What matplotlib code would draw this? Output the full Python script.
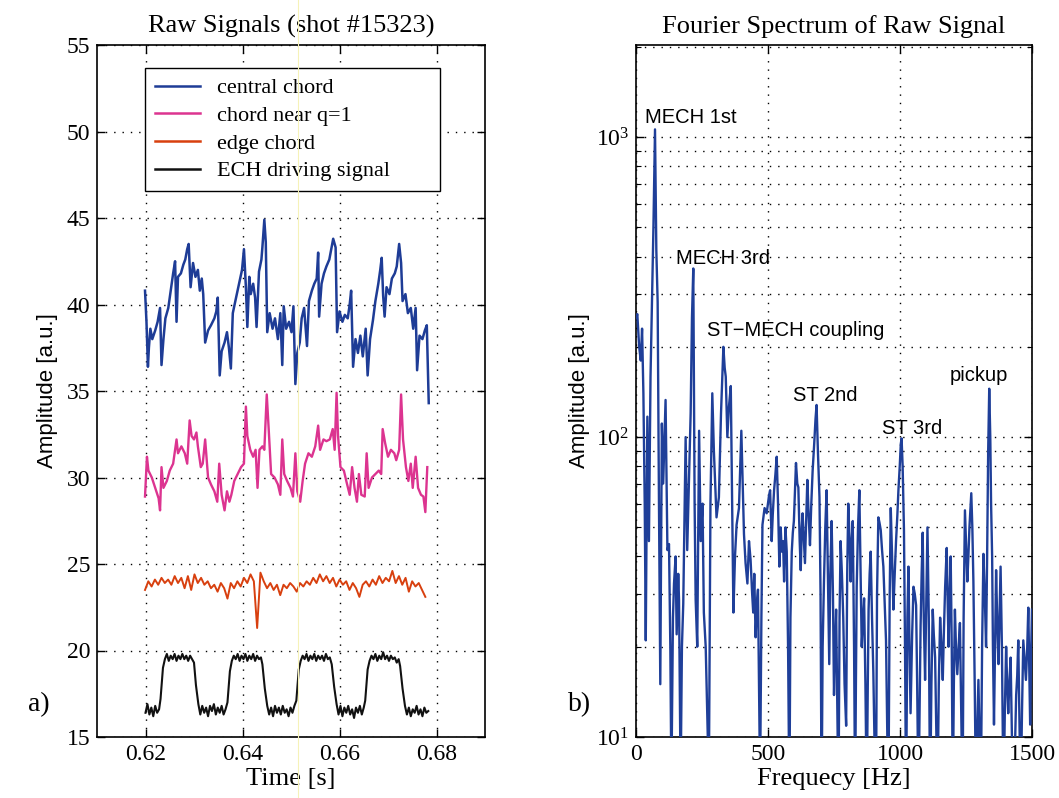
import numpy as np
import matplotlib
matplotlib.use('Agg')
import matplotlib.pyplot as plt
from matplotlib.lines import Line2D
from matplotlib.ticker import LogLocator, NullFormatter

SERIF = ['Liberation Serif', 'DejaVu Serif']
SANS = ['Liberation Sans', 'DejaVu Sans']
plt.rcParams['font.family'] = SERIF
plt.rcParams['mathtext.fontset'] = 'custom'
plt.rcParams['mathtext.rm'] = 'Liberation Serif'
plt.rcParams['mathtext.it'] = 'Liberation Serif:italic'

# ---------------- data: raw signals ----------------
central_t = [0.6199, 0.6202, 0.6205, 0.6207, 0.6210, 0.6214, 0.6220, 0.6225, 0.6230, 0.6233,
             0.6237, 0.6241, 0.6247, 0.6252, 0.6257, 0.6261, 0.6264, 0.6267, 0.6273, 0.6278,
             0.6282, 0.6286, 0.6289, 0.6293, 0.6298, 0.6303, 0.6308, 0.6312, 0.6316, 0.6319,
             0.6323, 0.6329, 0.6335, 0.6342, 0.6346, 0.6349, 0.6353, 0.6357, 0.6363, 0.6368,
             0.6372, 0.6376, 0.6380, 0.6386, 0.6393, 0.6399, 0.6403, 0.6407, 0.6410, 0.6414,
             0.6417, 0.6422, 0.6426, 0.6429, 0.6434, 0.6439, 0.6441, 0.6445, 0.6448, 0.6451,
             0.6456, 0.6462, 0.6467, 0.6473, 0.6478, 0.6482, 0.6485, 0.6490, 0.6496, 0.6501,
             0.6505, 0.6509, 0.6513, 0.6518, 0.6522, 0.6527, 0.6533, 0.6537, 0.6543, 0.6548,
             0.6553, 0.6556, 0.6558, 0.6563, 0.6568, 0.6573, 0.6579, 0.6583, 0.6587, 0.6592,
             0.6595, 0.6600, 0.6606, 0.6611, 0.6617, 0.6621, 0.6624, 0.6628, 0.6633, 0.6638,
             0.6643, 0.6648, 0.6654, 0.6658, 0.6663, 0.6669, 0.6674, 0.6680, 0.6684, 0.6687,
             0.6690, 0.6693, 0.6697, 0.6703, 0.6708, 0.6714, 0.6718, 0.6723, 0.6727, 0.6730,
             0.6736, 0.6741, 0.6747, 0.6752, 0.6757, 0.6760, 0.6765, 0.6771, 0.6776, 0.6780,
             0.6784]
central_v = [40.8, 39.0, 36.4, 37.5, 38.6, 38.0, 38.5, 39.0, 39.8, 36.5,
             38.0, 39.2, 39.8, 40.8, 41.8, 42.5, 39.0, 41.6, 41.8, 42.3,
             42.6, 43.2, 43.5, 41.0, 42.4, 41.6, 42.0, 40.8, 41.5, 40.6,
             37.8, 38.5, 38.8, 39.2, 39.6, 40.4, 35.9, 37.3, 37.8, 38.4,
             37.5, 36.3, 39.5, 40.3, 41.2, 42.0, 43.2, 41.0, 38.7, 41.6,
             40.6, 41.2, 40.4, 38.7, 41.9, 42.6, 43.3, 44.9, 43.6, 38.4,
             39.5, 38.6, 39.2, 38.0, 39.5, 36.5, 39.9, 38.6, 39.0, 38.4,
             39.9, 35.4, 37.2, 37.8, 39.2, 39.8, 37.6, 40.2, 40.8, 41.2,
             41.5, 43.0, 39.3, 41.2, 41.8, 42.2, 42.6, 43.2, 43.8, 43.3,
             38.4, 39.6, 39.0, 39.4, 39.2, 40.0, 40.8, 36.4, 38.0, 37.2,
             38.2, 37.0, 38.6, 35.9, 38.0, 39.1, 40.2, 41.2, 42.0, 42.7,
             40.5, 39.3, 41.0, 40.6, 41.5, 41.8, 42.2, 43.5, 42.4, 40.2,
             40.6, 39.5, 39.8, 38.6, 39.8, 36.2, 38.2, 38.0, 38.5, 38.8,
             34.3]

q1_t = [0.6199, 0.6203, 0.6206, 0.6213, 0.6220, 0.6227, 0.6230, 0.6233, 0.6237, 0.6244,
        0.6250, 0.6257, 0.6264, 0.6267, 0.6274, 0.6281, 0.6286, 0.6291, 0.6295, 0.6300,
        0.6305, 0.6308, 0.6314, 0.6318, 0.6323, 0.6329, 0.6335, 0.6342, 0.6348, 0.6352,
        0.6357, 0.6363, 0.6368, 0.6373, 0.6377, 0.6383, 0.6390, 0.6397, 0.6403, 0.6407,
        0.6410, 0.6416, 0.6422, 0.6427, 0.6431, 0.6435, 0.6441, 0.6445, 0.6450, 0.6454,
        0.6459, 0.6466, 0.6473, 0.6478, 0.6482, 0.6486, 0.6492, 0.6499, 0.6504, 0.6509,
        0.6513, 0.6519, 0.6524, 0.6529, 0.6536, 0.6543, 0.6550, 0.6556, 0.6560, 0.6567,
        0.6573, 0.6580, 0.6586, 0.6590, 0.6594, 0.6597, 0.6602, 0.6609, 0.6614, 0.6621,
        0.6626, 0.6631, 0.6636, 0.6640, 0.6645, 0.6652, 0.6656, 0.6660, 0.6667, 0.6674,
        0.6681, 0.6686, 0.6689, 0.6694, 0.6700, 0.6706, 0.6713, 0.6717, 0.6723, 0.6727,
        0.6731, 0.6737, 0.6742, 0.6747, 0.6751, 0.6757, 0.6762, 0.6768, 0.6773, 0.6777,
        0.6781]
q1_v = [28.9, 31.2, 30.4, 30.0, 29.4, 28.8, 28.1, 30.6, 29.4, 29.8,
        30.4, 30.8, 32.2, 31.4, 31.8, 31.4, 30.8, 33.3, 32.4, 32.2,
        32.6, 31.8, 30.6, 30.8, 32.2, 30.0, 29.6, 29.2, 28.6, 30.8,
        29.0, 28.1, 29.2, 28.6, 29.0, 29.8, 30.2, 30.6, 30.8, 34.1,
        32.4, 31.6, 31.2, 31.6, 29.4, 31.6, 31.8, 31.6, 34.8, 32.8,
        30.2, 30.0, 29.6, 29.0, 32.2, 30.2, 29.8, 29.4, 28.9, 31.4,
        29.2, 28.6, 29.8, 30.8, 31.4, 31.2, 31.8, 33.0, 31.6, 32.2,
        32.1, 32.2, 32.8, 31.6, 34.9, 32.4, 30.6, 30.4, 29.8, 29.0,
        30.6, 29.4, 28.6, 30.2, 29.0, 28.9, 31.4, 29.4, 30.0, 30.2,
        30.4, 30.2, 32.8, 32.0, 31.2, 31.6, 31.4, 31.0, 31.6, 34.8,
        32.2, 30.6, 29.8, 30.8, 29.4, 31.2, 29.4, 29.0, 28.9, 28.0,
        30.6]

edge_start, edge_end = 0.6199, 0.6777
edge_v = [23.5, 24.0, 23.7, 24.1, 23.8, 24.2, 23.9, 24.1, 23.8, 24.3,
          23.9, 24.2, 23.6, 24.3, 23.5, 24.4, 23.9, 24.2, 23.8, 24.0,
          23.6, 23.8, 23.4, 23.9, 23.6, 23.0, 23.9, 23.6, 24.0, 23.7,
          24.2, 23.9, 24.4, 24.0, 21.3, 24.5, 24.0, 23.6, 23.9, 23.5,
          23.8, 23.2, 23.8, 23.6, 23.9, 23.7, 23.4, 23.9, 23.7, 24.0,
          23.8, 24.2, 23.9, 24.4, 24.0, 24.3, 23.9, 24.2, 23.7, 24.1,
          23.8, 24.0, 23.5, 23.9, 23.6, 23.1, 23.8, 24.0, 23.7, 24.1,
          23.8, 24.3, 23.9, 24.2, 24.0, 24.6, 23.9, 24.3, 23.8, 24.2,
          23.4, 24.0, 23.7, 23.9, 23.5, 23.1]

ech_t = [0.6200, 0.6204, 0.6208, 0.6212, 0.6216, 0.6220, 0.6224, 0.6228, 0.6231, 0.6236,
         0.6240, 0.6244, 0.6248, 0.6252, 0.6256, 0.6260, 0.6264, 0.6268, 0.6272, 0.6276,
         0.6280, 0.6284, 0.6288, 0.6292, 0.6296, 0.6300, 0.6304, 0.6309, 0.6313, 0.6317,
         0.6321, 0.6325, 0.6329, 0.6333, 0.6337, 0.6341, 0.6345, 0.6349, 0.6353, 0.6357,
         0.6361, 0.6365, 0.6369, 0.6374, 0.6378, 0.6382, 0.6386, 0.6390, 0.6394, 0.6398,
         0.6402, 0.6406, 0.6410, 0.6414, 0.6418, 0.6422, 0.6426, 0.6430, 0.6434, 0.6438,
         0.6441, 0.6446, 0.6451, 0.6455, 0.6459, 0.6463, 0.6467, 0.6471, 0.6475, 0.6479,
         0.6483, 0.6487, 0.6491, 0.6495, 0.6499, 0.6503, 0.6507, 0.6511, 0.6516, 0.6520,
         0.6524, 0.6528, 0.6532, 0.6536, 0.6540, 0.6544, 0.6548, 0.6552, 0.6556, 0.6560,
         0.6564, 0.6568, 0.6572, 0.6576, 0.6580, 0.6584, 0.6589, 0.6594, 0.6598, 0.6602,
         0.6606, 0.6610, 0.6614, 0.6618, 0.6622, 0.6626, 0.6630, 0.6634, 0.6638, 0.6642,
         0.6646, 0.6650, 0.6653, 0.6658, 0.6662, 0.6666, 0.6670, 0.6674, 0.6678, 0.6682,
         0.6686, 0.6690, 0.6694, 0.6698, 0.6702, 0.6706, 0.6710, 0.6714, 0.6718, 0.6722,
         0.6725, 0.6730, 0.6735, 0.6739, 0.6743, 0.6747, 0.6751, 0.6755, 0.6759, 0.6763,
         0.6767, 0.6771, 0.6775, 0.6779, 0.6783]
ech_v = [16.4, 16.9, 16.3, 16.7, 16.2, 16.8, 16.4, 16.6, 17.2, 19.0,
         19.5, 19.8, 19.4, 19.7, 19.5, 19.8, 19.4, 19.7, 19.5, 19.8,
         19.5, 19.7, 19.4, 19.7, 19.5, 19.3, 18.0, 16.9, 16.3, 16.8,
         16.4, 16.7, 16.2, 16.8, 16.5, 16.9, 16.3, 16.7, 16.4, 16.8,
         16.3, 16.6, 17.0, 18.8, 19.4, 19.7, 19.5, 19.8, 19.4, 19.7,
         19.5, 19.8, 19.4, 19.7, 19.5, 19.8, 19.4, 19.7, 19.5, 19.6,
         19.2, 17.8, 16.8, 16.3, 16.7, 16.2, 16.8, 16.4, 16.7, 16.3,
         16.8, 16.4, 16.6, 16.2, 16.7, 16.4, 16.8, 17.1, 18.9, 19.4,
         19.7, 19.5, 19.8, 19.4, 19.7, 19.5, 19.8, 19.4, 19.7, 19.5,
         19.7, 19.4, 19.8, 19.5, 19.6, 19.2, 17.9, 16.9, 16.3, 16.8,
         16.2, 16.7, 16.4, 16.8, 16.3, 16.6, 16.1, 16.7, 16.4, 16.8,
         16.3, 16.7, 17.1, 18.9, 19.4, 19.7, 19.5, 19.8, 19.4, 19.7,
         19.5, 19.9, 19.5, 19.7, 19.4, 19.7, 19.5, 19.6, 19.3, 19.5,
         19.1, 17.8, 16.8, 16.3, 16.7, 16.2, 16.6, 16.4, 16.8, 16.3,
         16.6, 16.2, 16.7, 16.4, 16.5]

series_labels = ['central chord', 'chord near q=1', 'edge chord', 'ECH driving signal']

# ---------------- data: Fourier spectrum ----------------
freq_hz = [0, 5, 12, 18, 23, 28, 33, 37, 43, 49, 55, 60, 66, 72, 77, 82, 87, 92, 98, 103,
           106, 112, 119, 125, 130, 134, 140, 144, 150, 154, 160, 163, 169, 174, 179, 188, 194, 201, 207, 212,
           217, 222, 226, 232, 239, 245, 252, 257, 264, 270, 276, 282, 289, 295, 305, 314, 322, 331, 336, 340,
           346, 352, 359, 364, 369, 375, 381, 390, 395, 399, 404, 409, 415, 422, 428, 434, 440, 444, 448, 453,
           458, 462, 466, 470, 475, 479, 487, 495, 500, 504, 508, 514, 518, 523, 528, 533, 538, 543, 548, 552,
           557, 561, 566, 571, 576, 581, 585, 590, 594, 598, 606, 611, 615, 620, 624, 628, 631, 636, 640, 645,
           649, 654, 659, 664, 669, 675, 680, 684, 689, 695, 699, 703, 707, 712, 717, 722, 727, 732, 736, 741,
           746, 750, 754, 758, 763, 767, 771, 775, 780, 785, 790, 796, 800, 804, 809, 813, 817, 821, 826, 830,
           833, 836, 841, 846, 851, 855, 860, 864, 869, 874, 878, 881, 885, 889, 894, 899, 904, 909, 913, 918,
           922, 927, 932, 937, 942, 947, 952, 956, 961, 965, 970, 975, 980, 985, 990, 994, 999, 1003, 1006, 1010,
           1015, 1019, 1023, 1028, 1032, 1036, 1040, 1046, 1051, 1056, 1061, 1065, 1070, 1074, 1078, 1082, 1086, 1090, 1095, 1100,
           1104, 1109, 1114, 1119, 1124, 1128, 1133, 1138, 1142, 1147, 1152, 1157, 1162, 1166, 1171, 1177, 1180, 1184, 1188, 1192,
           1196, 1200, 1204, 1208, 1212, 1217, 1222, 1227, 1232, 1237, 1241, 1246, 1250, 1255, 1259, 1263, 1267, 1270, 1274, 1278,
           1283, 1288, 1292, 1297, 1301, 1306, 1311, 1316, 1321, 1326, 1330, 1334, 1338, 1342, 1345, 1349, 1352, 1356, 1360, 1364,
           1368, 1373, 1377, 1381, 1386, 1392, 1397, 1402, 1406, 1410, 1414, 1419, 1424, 1429, 1434, 1440, 1444, 1448, 1452, 1457,
           1462, 1467, 1472, 1477, 1482, 1486, 1490, 1493, 1496, 1500]
spec_amp = [250, 257, 200, 180, 230, 140, 60, 21, 117, 45, 159, 272, 500, 1062, 420, 282, 60, 15, 111, 70,
            86, 133, 42, 44, 20, 7, 25, 32.5, 40, 22, 35, 28.6, 7, 20, 27.8, 100, 42, 74, 120, 250,
            365, 60, 28.6, 20, 105, 45, 60, 26, 20, 12, 7, 60, 140, 90, 54, 63, 120, 200, 170, 159,
            100, 126, 148, 60, 26, 40, 51, 58, 80, 105, 70, 47.5, 38, 32.5, 45, 39, 30, 26, 35, 21.5,
            28, 31, 15, 7, 25, 51, 58, 55.7, 60, 64, 66.5, 45, 55, 66.5, 75, 86, 60, 37, 50, 41.5,
            45, 33, 50, 41.5, 20, 6, 25, 41.5, 48, 52.5, 82, 70, 68, 45, 36, 50, 55.7, 45, 38, 55,
            72, 55, 43.6, 60, 77, 95, 115, 128, 90, 63, 30, 6, 20, 33, 50, 66.5, 35, 17.5, 35, 52.5,
            30, 13.8, 20, 26.6, 12, 6, 25, 45, 35, 25, 15, 10.9, 35, 60, 45, 33, 45, 52.5, 20, 6,
            15, 31.7, 50, 66.5, 35, 20, 25, 29, 15, 6, 15, 26.6, 35, 41.5, 25, 16.4, 9, 6, 30, 54,
            52, 49, 42, 37, 28, 21, 10, 6, 30, 58, 40, 26.6, 35, 45, 55, 66.5, 80, 95, 99, 80,
            49, 20, 6, 25, 37, 20, 12, 22, 31.7, 30, 27.5, 15, 6, 12, 23.5, 35, 48, 25, 15.5, 30,
            50, 25, 6, 15, 26.6, 22, 18.4, 10, 6, 15, 25, 20, 15.5, 22, 31.7, 42.7, 30, 20, 30, 40,
            20, 6, 15, 26.6, 20, 16.2, 20, 24, 12, 6, 25, 57, 45, 33, 40, 50, 58, 65, 50, 33,
            15, 6, 10, 15.5, 10, 6, 20, 40.8, 30, 20, 40, 90, 145, 100, 60, 40, 20, 11, 20, 36,
            25, 17.5, 25, 37, 20, 6, 12, 20, 15, 12, 15, 18.4, 10, 6, 8, 13.8, 16, 21, 12, 6,
            12, 21, 18, 15.5, 20, 27, 16, 11, 18, 26.6]

peak_labels = ['MECH 1st', 'MECH 3rd', 'ST\u2212MECH coupling', 'ST 2nd', 'ST 3rd', 'pickup']
peak_label_f = [34, 152, 269, 595, 932, 1190]
peak_label_a = [1166, 395, 227, 138, 107, 160]

# ---------------- figure ----------------
W, H = 1059, 798
fig = plt.figure(figsize=(W / 100, H / 100), dpi=100)
ax1 = fig.add_axes([97 / W, 1 - 737 / H, (485 - 97) / W, (737 - 45) / H])
ax2 = fig.add_axes([636 / W, 1 - 737 / H, (1032 - 636) / W, (737 - 45) / H])

colors = ['#1e3c96', '#dc3490', '#d8400f', '#111111']
dot = (0, (1, 5))

ax1.plot(central_t, central_v, color=colors[0], lw=1.8, label=series_labels[0], zorder=3)
ax1.plot(q1_t, q1_v, color=colors[1], lw=1.7, label=series_labels[1], zorder=3)
edge_t = np.linspace(edge_start, edge_end, len(edge_v))
ax1.plot(edge_t, edge_v, color=colors[2], lw=1.4, label=series_labels[2], zorder=3)
ax1.plot(ech_t, ech_v, color=colors[3], lw=1.5, label=series_labels[3], zorder=3)

ax1.set_xlim(0.61, 0.69)
ax1.set_ylim(15, 55)
ax1.set_xticks([0.62, 0.64, 0.66, 0.68])
ax1.set_xticklabels(['0.62', '0.64', '0.66', '0.68'])
ax1.set_yticks(np.arange(15, 56, 5))
ax1.grid(True, which='major', linestyle=dot, color='k', lw=1.0)
ax1.set_title('Raw Signals (shot #15323)', fontsize=19, pad=9)
ax1.set_xlabel('Time [s]', fontsize=19, labelpad=2)
ax1.set_ylabel('Amplitude [a.u.]', family=SANS, fontsize=16, labelpad=6)

leg = ax1.legend(loc='upper left', bbox_to_anchor=(0.124, 0.783, 0.76, 0.184),
                 mode='expand', fancybox=False, framealpha=1, edgecolor='k',
                 fontsize=16, handlelength=2.0, handletextpad=0.8,
                 labelspacing=0.32, borderpad=0.45, borderaxespad=0)
leg.get_frame().set_linewidth(1.0)
for lh in leg.get_lines():
    lh.set_linewidth(1.8)
leg.set_zorder(5)

ax2.plot(freq_hz, spec_amp, color='#1f3f99', lw=1.7, zorder=3)
ax2.set_yscale('log')
ax2.set_xlim(0, 1500)
ax2.set_ylim(10, 2030)
ax2.set_xticks([0, 500, 1000, 1500])
ax2.yaxis.set_major_locator(LogLocator(base=10, numticks=10))
ax2.yaxis.set_minor_locator(LogLocator(base=10, subs=np.arange(2, 10), numticks=20))
ax2.yaxis.set_minor_formatter(NullFormatter())
ax2.grid(True, which='major', linestyle=dot, color='k', lw=1.0)
ax2.grid(True, which='minor', axis='y', linestyle=dot, color='k', lw=1.0)
ax2.set_title('Fourier Spectrum of Raw Signal', fontsize=19, pad=9)
ax2.set_xlabel('Frequecy [Hz]', fontsize=19, labelpad=2)
ax2.set_ylabel('Amplitude [a.u.]', family=SANS, fontsize=16, labelpad=4)

for lab, f, a in zip(peak_labels, peak_label_f, peak_label_a):
    ax2.text(f, a, lab, family=SANS, fontsize=14.5, ha='left', va='center', zorder=4)

for ax in (ax1, ax2):
    ax.tick_params(which='both', direction='in', top=True, right=True, labelsize=17, pad=5)
    ax.tick_params(which='major', length=6, width=1)
    ax.tick_params(which='minor', length=3.5, width=0.8)
    for s in ax.spines.values():
        s.set_linewidth(1.2)
    ax.set_axisbelow(True)

fig.text(28 / W, 1 - 705 / H, 'a)', fontsize=20, va='center', ha='left')
fig.text(568 / W, 1 - 705 / H, 'b)', fontsize=20, va='center', ha='left')

# faint yellow scan streak
fig.add_artist(Line2D([298 / W, 298 / W], [0, 1], transform=fig.transFigure,
                      color='#f6f2b8', lw=0.8, zorder=10))

fig.savefig('out.png', dpi=100)
